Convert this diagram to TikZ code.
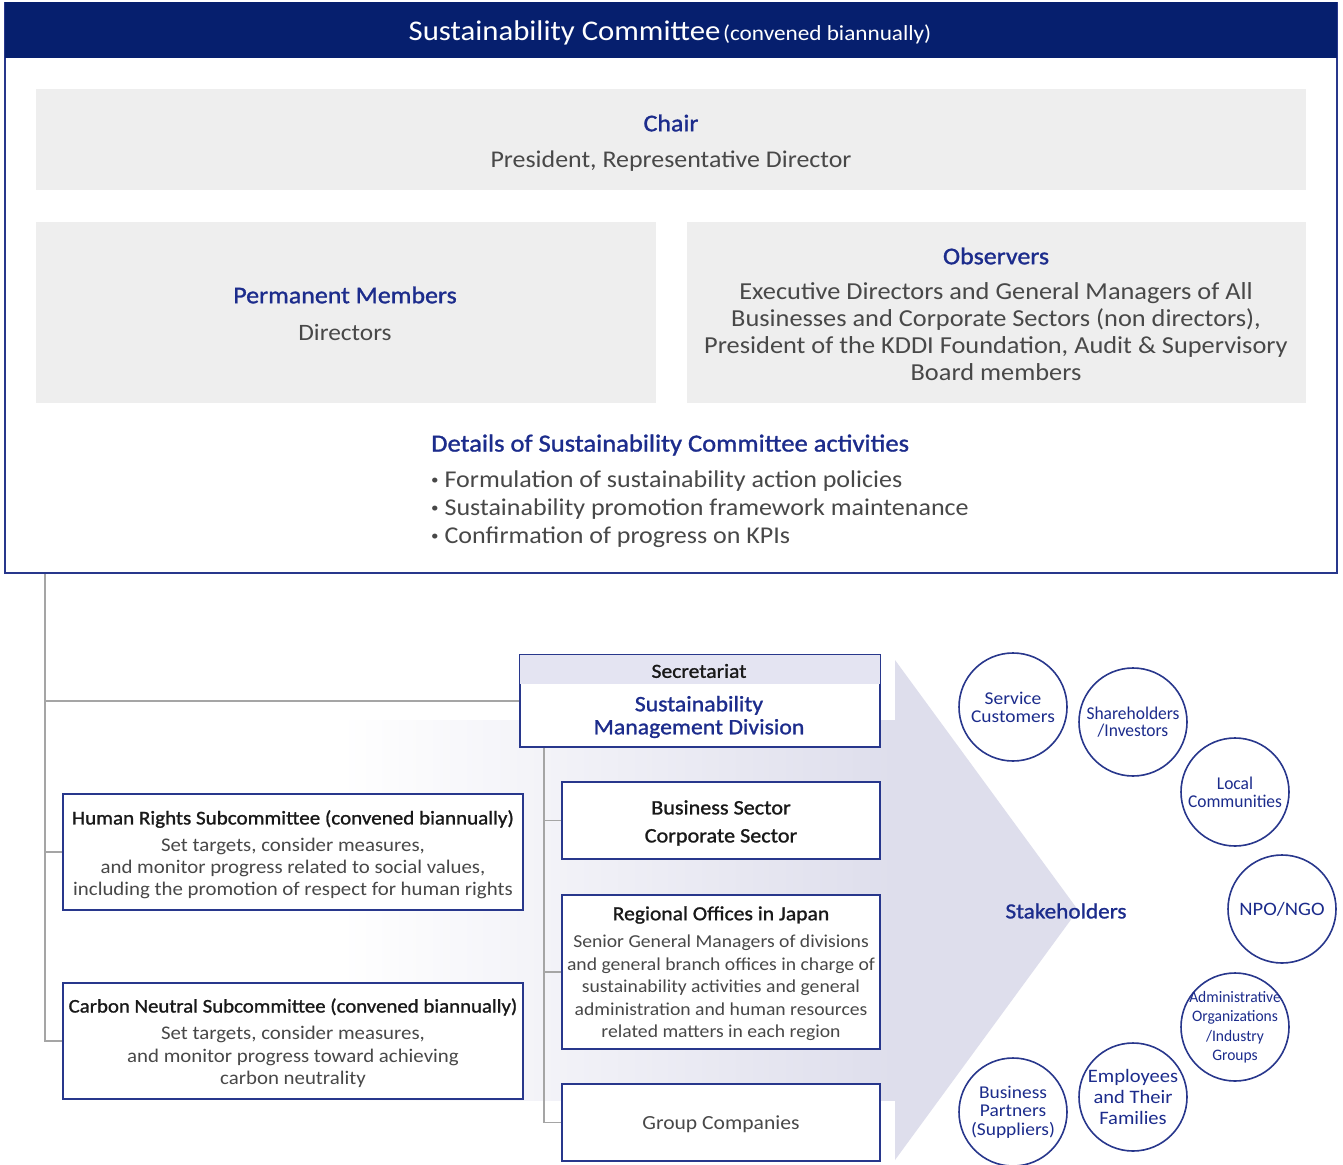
\documentclass[tikz,border=0pt]{standalone}
\usepackage{fontspec}
\setmainfont{Carlito}[FakeStretch=1.08]
\newfontfamily\medfont{Carlito}[FakeStretch=1.08, FakeBold=1.2]
\newfontfamily\narrowfont{Carlito}[FakeStretch=0.97]
\definecolor{navy}{RGB}{6,31,110}
\definecolor{tblue}{RGB}{28,44,140}
\definecolor{bord}{RGB}{40,55,140}
\definecolor{graybox}{RGB}{238,238,238}
\definecolor{txt}{RGB}{72,72,72}
\definecolor{dark}{RGB}{25,25,25}
\definecolor{lav}{RGB}{222,222,236}
\definecolor{lavband}{RGB}{228,228,242}
\definecolor{conncol}{RGB}{165,165,165}
\newcommand\fs[2]{\fontsize{#1}{#2}\selectfont}
\newcommand\smallbullet{\raisebox{2.5pt}{\fs{14}{14}\textbullet}}
\begin{document}
\begin{tikzpicture}[x=1pt,y=-1pt,
  lbl/.style={inner sep=0, align=center},
  box/.style={draw=bord, line width=1.6pt, fill=white, inner sep=0},
  gbox/.style={fill=graybox, inner sep=0},
  connector/.style={draw=conncol, line width=1.8pt},
  circ/.style={circle, draw=bord, line width=1.6pt, fill=white, minimum size=108pt, inner sep=0},
  ctext/.style={inner sep=0, align=center, text=tblue}]

\useasboundingbox (0,0) rectangle (1343,1164);
\fill[white] (0,0) rectangle (1343,1164);

% background arrow
\shade[left color=white, right color=lav] (340,720) rectangle (895,1100);
\fill[lav] (895,660) -- (1078,910) -- (895,1160) -- cycle;

% committee box
\node[draw=bord, line width=1.5pt, minimum width=1332, minimum height=570, inner sep=0] (comm) at (671,288) {};
\node[fill=navy, minimum width=1332, minimum height=56, inner sep=0, anchor=north] (head) at (comm.north) {};
\node[lbl, text=white] (headtxt) at (670,33) {{\fs{28.5}{30}Sustainability Committee} {\fs{21.5}{30}(convened biannually)}};

\node[gbox, minimum width=1270, minimum height=101] (chair) at (671,139.5) {};
\node[lbl, text=tblue, font=\medfont\fs{24}{28}] (chairt) at (671,123) {Chair};
\node[lbl, text=txt, font=\fs{24}{28}] (chairb) at (671,161) {President, Representative Director};

\node[gbox, minimum width=620, minimum height=181] (perm) at (346,312.5) {};
\node[lbl, text=tblue, font=\medfont\fs{24}{28}] (permt) at (345,295) {Permanent Members};
\node[lbl, text=txt, font=\fs{23.5}{28}] (permb) at (345,332) {Directors};

\node[gbox, minimum width=619, minimum height=181] (obs) at (996.5,312.5) {};
\node[lbl, text=tblue, font=\medfont\fs{24}{28}] (obst) at (996,256) {Observers};
\node[lbl, text=txt, font=\fs{24.4}{27}] (obsb) at (996,332) {Executive Directors and General Managers of All\\Businesses and Corporate Sectors (non directors),\\President of the KDDI Foundation, Audit \& Supervisory\\Board members};

\node[lbl, anchor=west, text=tblue, font=\medfont\fs{24.6}{28}] (dett) at (431,445) {Details of Sustainability Committee activities};
\node[lbl, anchor=west, align=left, text=txt, font=\fs{24.1}{28}] (detb) at (431,509) {\smallbullet\ Formulation of sustainability action policies\\\smallbullet\ Sustainability promotion framework maintenance\\\smallbullet\ Confirmation of progress on KPIs};

% lower boxes
\node[box, minimum width=360, minimum height=92] (sec) at (700,701) {};
\fill[lavband] ([shift={(0.8,0.8)}]sec.north west) rectangle ([shift={(-0.8,30)}]sec.north east);
\node[lbl, text=dark, font=\medfont\fs{20}{24}] (sect) at (699,671) {Secretariat};
\node[lbl, text=tblue, font=\medfont\fs{22}{23}] (secb) at (699,717) {Sustainability\\Management Division};

\node[box, minimum width=318, minimum height=77] (bus) at (721,820.5) {};
\node[lbl, text=dark, font=\medfont\fs{20.5}{28}] (bust) at (721,823) {Business Sector\\Corporate Sector};

\node[box, minimum width=318, minimum height=154] (reg) at (721,972) {};
\node[lbl, text=dark, font=\medfont\fs{20}{24}] (regt) at (721,915) {Regional Offices in Japan};
\node[lbl, text=txt, font=\fs{18.2}{22.5}] (regb) at (721,988) {Senior General Managers of divisions\\and general branch offices in charge of\\sustainability activities and general\\administration and human resources\\related matters in each region};

\node[box, minimum width=318, minimum height=77] (grp) at (721,1122.5) {};
\node[lbl, text=txt, font=\fs{20}{24}] (grpt) at (721,1124) {Group Companies};

\node[box, minimum width=460, minimum height=116] (hr) at (293,852) {};
\node[lbl, text=dark, font=\medfont\fs{19.5}{24}] (hrt) at (293,819) {Human Rights Subcommittee (convened biannually)};
\node[lbl, text=txt, font=\fs{19.3}{22}] (hrb) at (293,868) {Set targets, consider measures,\\and monitor progress related to social values,\\including the promotion of respect for human rights};

\node[box, minimum width=460, minimum height=116] (cn) at (293,1041) {};
\node[lbl, text=dark, font=\medfont\fs{19.3}{24}] (cnt) at (293,1007) {Carbon Neutral Subcommittee (convened biannually)};
\node[lbl, text=txt, font=\fs{19.3}{22.5}] (cnb) at (293,1057) {Set targets, consider measures,\\and monitor progress toward achieving\\carbon neutrality};

% connectors
\coordinate (t0) at (45,574);
\draw[connector] (t0) |- (sec.west);
\draw[connector] (t0) |- (hr.west);
\draw[connector] (t0) |- (cn.west);
\coordinate (s0) at (544,748);
\draw[connector] (s0) |- (bus.west);
\draw[connector] (s0) |- (reg.west);
\draw[connector] (s0) |- (grp.west);

% stakeholders
\node[lbl, text=tblue, font=\medfont\fs{21.5}{26}] (stk) at (1066,911) {Stakeholders};
\node[circ] (c1) at (1013,707) {};
\node[circ] (c2) at (1133,722) {};
\node[circ] (c3) at (1235,792) {};
\node[circ] (c4) at (1282,909) {};
\node[circ] (c5) at (1235,1027) {};
\node[circ] (c6) at (1133,1097) {};
\node[circ] (c7) at (1013,1112) {};
\node[ctext, font=\fs{18}{18}] (c1t) at (c1.center) {Service\\Customers};
\node[ctext, font=\narrowfont\fs{18}{17}] (c2t) at (c2.center) {Shareholders\\/Investors};
\node[ctext, font=\narrowfont\fs{18}{18}] (c3t) at (c3.center) {Local\\Communities};
\node[ctext, font=\fs{19}{20}] (c4t) at (c4.center) {NPO/NGO};
\node[ctext, font=\narrowfont\fs{16}{19.5}] (c5t) at (c5.center) {Administrative\\Organizations\\/Industry\\Groups};
\node[ctext, font=\fs{19}{21}] (c6t) at (c6.center) {Employees\\and Their\\Families};
\node[ctext, font=\fs{18}{18.5}] (c7t) at (c7.center) {Business\\Partners\\(Suppliers)};
\end{tikzpicture}
\end{document}
